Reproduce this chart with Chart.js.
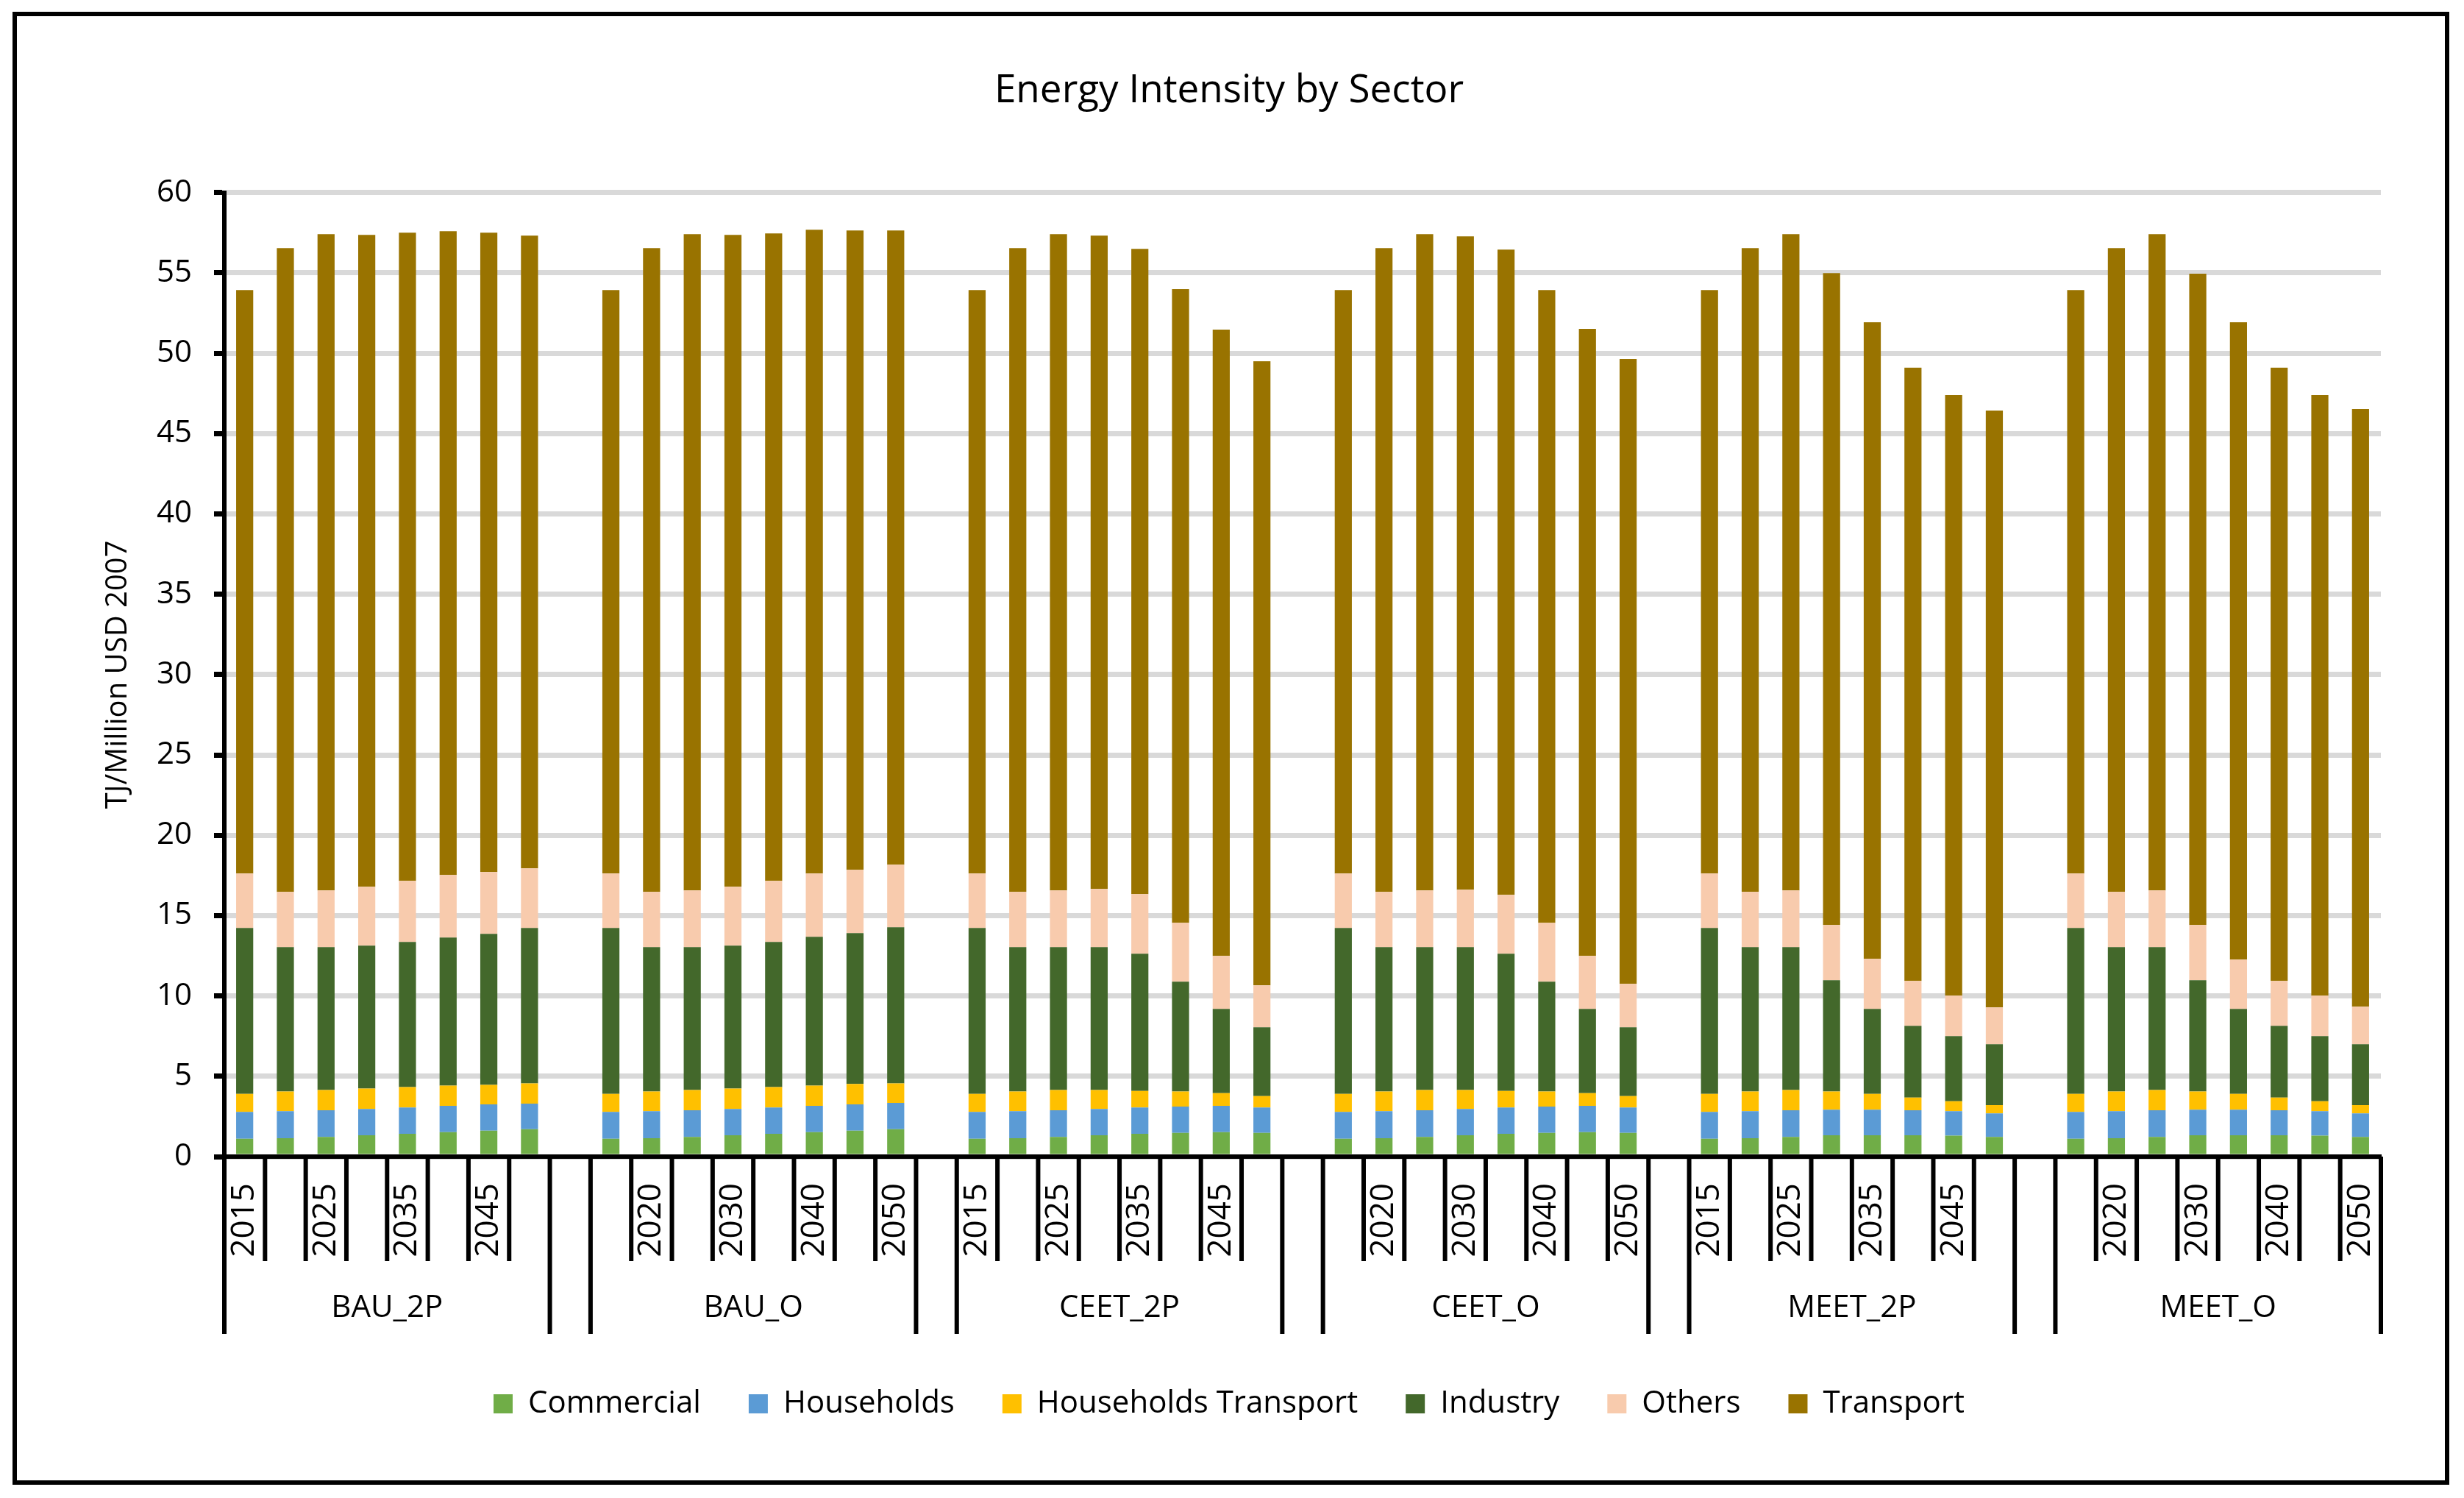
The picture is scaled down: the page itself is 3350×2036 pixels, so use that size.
<!DOCTYPE html>
<html>
<head>
<meta charset="utf-8">
<script src="https://cdn.jsdelivr.net/npm/chart.js@4.4.1/dist/chart.umd.min.js"></script>
<style>
html, body { margin: 0; padding: 0; background: #fff; }
#wrap { width: 3350px; height: 2036px; position: relative; }
</style>
</head>
<body>
<div id="wrap"><canvas id="myChart"></canvas></div>
<script>
var scenarios = ['BAU_2P', 'BAU_O', 'CEET_2P', 'CEET_O', 'MEET_2P', 'MEET_O'];
var years = ['2015', '2020', '2025', '2030', '2035', '2040', '2045', '2050'];

// one row per scenario, one value per year
var commercial = [
  [1.11, 1.14, 1.23, 1.33, 1.42, 1.52, 1.61, 1.70],
  [1.11, 1.14, 1.23, 1.33, 1.42, 1.52, 1.61, 1.70],
  [1.11, 1.14, 1.23, 1.33, 1.42, 1.48, 1.52, 1.48],
  [1.11, 1.14, 1.23, 1.33, 1.42, 1.48, 1.52, 1.48],
  [1.11, 1.14, 1.23, 1.33, 1.33, 1.33, 1.30, 1.23],
  [1.11, 1.14, 1.23, 1.33, 1.33, 1.33, 1.30, 1.23]
];
var households = [
  [1.67, 1.69, 1.65, 1.64, 1.64, 1.64, 1.64, 1.60],
  [1.67, 1.69, 1.65, 1.64, 1.64, 1.64, 1.64, 1.64],
  [1.67, 1.69, 1.65, 1.64, 1.64, 1.63, 1.64, 1.58],
  [1.67, 1.69, 1.65, 1.64, 1.64, 1.63, 1.64, 1.58],
  [1.67, 1.69, 1.65, 1.59, 1.59, 1.55, 1.53, 1.46],
  [1.67, 1.69, 1.65, 1.59, 1.59, 1.55, 1.53, 1.46]
];
var hhTransport = [
  [1.12, 1.22, 1.26, 1.26, 1.27, 1.26, 1.22, 1.26],
  [1.12, 1.22, 1.26, 1.26, 1.27, 1.26, 1.27, 1.22],
  [1.12, 1.22, 1.26, 1.17, 1.03, 0.94, 0.79, 0.71],
  [1.12, 1.22, 1.26, 1.17, 1.03, 0.94, 0.79, 0.71],
  [1.12, 1.22, 1.26, 1.13, 0.98, 0.79, 0.61, 0.51],
  [1.12, 1.22, 1.26, 1.13, 0.98, 0.79, 0.61, 0.51]
];
var industry = [
  [10.33, 8.99, 8.90, 8.90, 9.03, 9.21, 9.39, 9.67],
  [10.33, 8.99, 8.90, 8.90, 9.03, 9.26, 9.39, 9.71],
  [10.33, 8.99, 8.90, 8.90, 8.54, 6.84, 5.24, 4.28],
  [10.33, 8.99, 8.90, 8.90, 8.54, 6.84, 5.24, 4.28],
  [10.33, 8.99, 8.90, 6.93, 5.29, 4.47, 4.06, 3.79],
  [10.33, 8.99, 8.90, 6.93, 5.29, 4.47, 4.06, 3.79]
];
var others = [
  [3.39, 3.43, 3.52, 3.66, 3.80, 3.90, 3.85, 3.71],
  [3.39, 3.43, 3.52, 3.66, 3.80, 3.94, 3.94, 3.90],
  [3.39, 3.43, 3.52, 3.62, 3.71, 3.66, 3.30, 2.61],
  [3.39, 3.43, 3.52, 3.57, 3.66, 3.66, 3.30, 2.70],
  [3.39, 3.43, 3.52, 3.43, 3.12, 2.79, 2.52, 2.29],
  [3.39, 3.43, 3.52, 3.43, 3.07, 2.79, 2.52, 2.34]
];
var transport = [
  [36.31, 40.07, 40.85, 40.57, 40.34, 40.06, 39.79, 39.38],
  [36.31, 40.07, 40.85, 40.57, 40.29, 40.06, 39.79, 39.47],
  [36.31, 40.07, 40.85, 40.66, 40.15, 39.43, 38.97, 38.84],
  [36.31, 40.07, 40.85, 40.66, 40.16, 39.38, 39.02, 38.88],
  [36.31, 40.07, 40.85, 40.57, 39.61, 38.16, 37.37, 37.15],
  [36.31, 40.07, 40.85, 40.53, 39.66, 38.16, 37.37, 37.19]
];

// flatten with an empty slot between scenarios
var t_labels = [];
for (var s = 0; s < scenarios.length; ++s) {
  for (var i = 0; i < years.length; ++i) t_labels.push(years[i]);
  if (s < scenarios.length - 1) t_labels.push('');
}
function flat(rows) {
  var out = [];
  for (var s = 0; s < rows.length; ++s) {
    for (var i = 0; i < rows[s].length; ++i) out.push(rows[s][i]);
    if (s < rows.length - 1) out.push(null);
  }
  return out;
}

var FONT = "'Open Sans', sans-serif";
Chart.defaults.font.family = FONT;
Chart.defaults.color = '#000';

// multi-level category axis + outer frame
var xAxisDecor = {
  id: 'xAxisDecor',
  afterDraw: function(chart) {
    var ctx = chart.ctx, xs = chart.scales.x, area = chart.chartArea;
    var labels = chart.data.labels, n = labels.length;
    var slot = xs.getPixelForValue(1) - xs.getPixelForValue(0);
    var first = xs.getPixelForValue(0) - slot / 2;
    var y0 = area.bottom;
    ctx.save();
    ctx.strokeStyle = '#000';
    ctx.lineWidth = 6;
    for (var b = 0; b <= n; ++b) {
      var x = first + b * slot;
      var isLong = b === 0 || b === n || labels[b] === '' || labels[b - 1] === '';
      ctx.beginPath();
      ctx.moveTo(x, y0);
      ctx.lineTo(x, y0 + (isLong ? 241 : 142));
      ctx.stroke();
    }
    ctx.fillStyle = '#000';
    ctx.font = '44px ' + FONT;
    ctx.textAlign = 'right';
    ctx.textBaseline = 'middle';
    for (var i = 0; i < n; i += 2) {
      if (labels[i] === '') continue;
      ctx.save();
      ctx.translate(xs.getPixelForValue(i), y0 + 36);
      ctx.rotate(-Math.PI / 2);
      ctx.fillText(labels[i], 0, 0);
      ctx.restore();
    }
    ctx.font = '42px ' + FONT;
    ctx.textAlign = 'center';
    for (var s = 0; s < scenarios.length; ++s) {
      var c = xs.getPixelForValue(s * 9 + 3.5);
      ctx.fillText(scenarios[s], c, y0 + 206);
    }
    ctx.lineWidth = 6;
    ctx.strokeRect(20, 19, 3307, 1996);
    ctx.restore();
  }
};

var ctx = document.getElementById('myChart').getContext('2d');
var chart = new Chart(ctx, {
  type: 'bar',
  data: {
    labels: t_labels,
    datasets: [
      { label: 'Commercial', data: flat(commercial), backgroundColor: '#70AD47' },
      { label: 'Households', data: flat(households), backgroundColor: '#5B9BD5' },
      { label: 'Households Transport', data: flat(hhTransport), backgroundColor: '#FFC000' },
      { label: 'Industry', data: flat(industry), backgroundColor: '#43682B' },
      { label: 'Others', data: flat(others), backgroundColor: '#F8CBAD' },
      { label: 'Transport', data: flat(transport), backgroundColor: '#997300' }
    ]
  },
  options: {
    responsive: true,
    maintainAspectRatio: false,
    animation: false,
    devicePixelRatio: 1,
    datasets: { bar: { barPercentage: 0.42, categoryPercentage: 1 } },
    layout: { padding: { left: 105, right: 113, top: 0, bottom: 97 } },
    plugins: {
      title: {
        display: true,
        text: 'Energy Intensity by Sector',
        color: '#000',
        font: { size: 53, weight: 'normal' },
        padding: { top: 92, bottom: 106 }
      },
      legend: {
        position: 'bottom',
        labels: { boxWidth: 26, boxHeight: 26, padding: 65, color: '#000', font: { size: 42 } }
      },
      tooltip: { enabled: false }
    },
    scales: {
      x: {
        stacked: true,
        grid: { display: false },
        border: { display: true, color: '#000', width: 6 },
        ticks: { display: false },
        afterFit: function(scale) { scale.height = 250; }
      },
      y: {
        stacked: true,
        min: 0,
        max: 60,
        ticks: { stepSize: 5, color: '#000', padding: 30, font: { size: 42 } },
        grid: { color: '#D9D9D9', lineWidth: 7, tickColor: '#000', tickLength: 14, tickWidth: 7 },
        border: { display: true, color: '#000', width: 6 },
        title: {
          display: true,
          text: 'TJ/Million USD 2007',
          color: '#000',
          font: { size: 40 },
          padding: { top: 32, bottom: 0 }
        },
        afterFit: function(scale) { scale.width = 200; }
      }
    }
  },
  plugins: [xAxisDecor]
});
</script>
</body>
</html>
